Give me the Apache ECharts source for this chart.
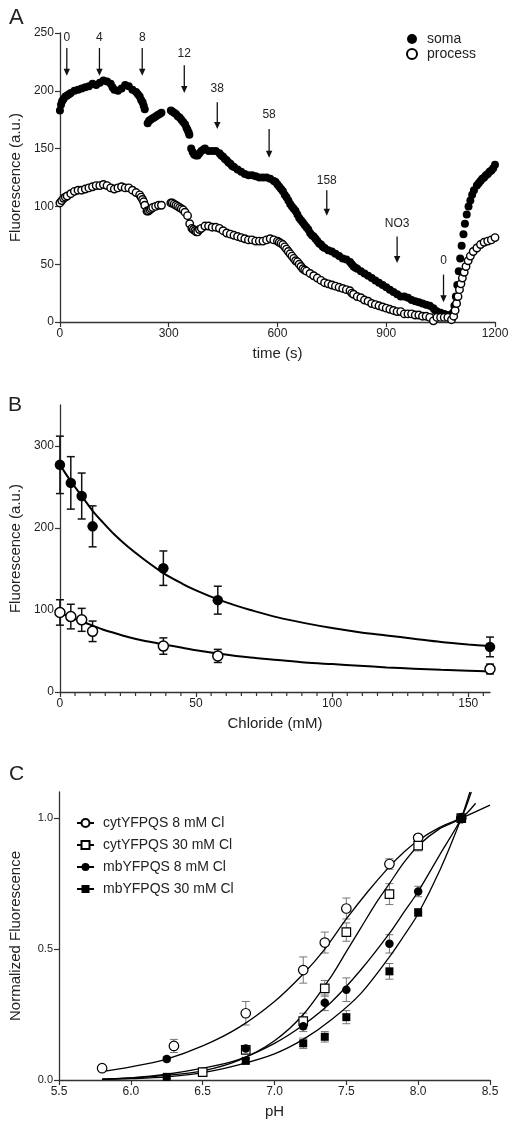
<!DOCTYPE html>
<html><head><meta charset="utf-8">
<script src="https://cdn.jsdelivr.net/npm/echarts@6/dist/echarts.min.js"></script>
<style>html,body{margin:0;padding:0;background:#fff}#c{width:514px;height:1127px}</style>
</head><body><div id="c"></div>
<script>
// ---------- Panel A data: time (s), fluorescence (a.u.) ----------
const somaA = [[0,183],[3,188],[6,191],[10,193],[15,195],[20,196],[25,197],[30,198],[40,200],[50,201],[60,202],[70,203],[80,204],[90,206],[100,205],[110,207],[120,209],[130,208],[140,206],[145,203],[150,201],[160,200],[170,202],[180,205],[190,204],[200,201],[210,199],[215,197],[220,195],[224,192],[228,190],[231,187],[234,184],[242,172],[246,174],[250,175],[255,176],[260,177],[265,178],[270,179],[275,180],[280,181],[306,183],[310,182],[315,181],[320,180],[325,178],[330,177],[335,175],[340,173],[345,171],[349,168],[352,166],[355,164],[357,162],[362,150],[366,147],[370,145],[375,144],[380,144],[385,146],[390,148],[395,149],[400,150],[410,148],[420,148],[430,148],[440,146],[445,144],[450,143],[455,141],[460,140],[465,138],[470,137],[475,135],[480,134],[490,132],[500,130],[510,128],[520,127],[530,127],[540,126],[550,125],[560,125],[570,125],[580,124],[590,122],[595,121],[600,119],[605,117],[610,115],[615,113],[620,110],[625,108],[630,105],[635,102],[640,100],[645,98],[650,96],[655,93],[660,90],[665,88],[670,86],[675,84],[680,82],[685,80],[690,77],[695,75],[700,74],[705,72],[710,70],[715,68],[720,67],[725,65],[730,64],[740,62],[750,61],[760,59],[770,57],[780,55],[790,54],[800,52],[805,50],[810,48],[815,47],[820,46],[830,44],[840,42],[850,40],[860,38],[870,36],[880,34],[890,32],[900,30],[910,28],[920,26],[930,24],[940,22],[950,22],[960,21],[970,19],[980,18],[990,17],[1000,16],[1010,15],[1020,14],[1030,12],[1035,10],[1040,9],[1050,8],[1060,7],[1070,6],[1078,5],[1084,8],[1088,14],[1092,22],[1096,32],[1100,44],[1104,55],[1108,66],[1113,76],[1117,85],[1122,93],[1127,100],[1132,105],[1137,110],[1142,114],[1150,118],[1155,120],[1160,122],[1165,124],[1170,125],[1175,127],[1180,128],[1185,130],[1190,131],[1195,133],[1200,136]];
const processA = [[0,103],[5,105],[10,107],[15,108],[20,109],[30,111],[40,113],[50,114],[60,114],[70,115],[80,116],[90,117],[100,118],[110,118],[120,119],[130,118],[140,116],[150,115],[160,116],[170,117],[180,116],[190,116],[200,114],[210,112],[220,110],[224,108],[228,106],[231,104],[234,101],[240,96],[244,96],[248,97],[252,98],[256,99],[264,100],[272,101],[280,101],[306,103],[310,103],[315,102],[320,101],[325,100],[330,99],[335,98],[340,97],[345,95],[352,92],[358,85],[364,81],[368,80],[372,79],[376,78],[380,78],[385,80],[390,81],[400,83],[410,83],[420,82],[430,82],[440,81],[450,79],[460,77],[470,76],[480,75],[490,74],[500,73],[510,72],[520,71],[530,71],[540,70],[550,70],[560,70],[570,71],[580,72],[590,71],[600,70],[605,69],[610,68],[615,67],[620,65],[625,63],[630,61],[635,59],[640,57],[645,55],[650,53],[655,52],[660,50],[665,48],[670,46],[675,45],[680,44],[690,42],[700,40],[710,38],[720,36],[730,34],[740,33],[750,32],[760,31],[770,30],[780,29],[790,28],[800,27],[805,25],[810,24],[820,22],[830,21],[840,19],[850,18],[860,16],[870,15],[880,14],[890,13],[900,12],[910,11],[920,10],[930,9],[940,9],[950,7],[960,7],[970,7],[980,6],[990,6],[1000,5],[1010,5],[1020,4],[1030,1],[1040,4],[1050,4],[1060,4],[1070,4],[1080,2],[1086,5],[1090,10],[1094,16],[1098,22],[1102,28],[1106,33],[1110,38],[1115,43],[1120,48],[1126,53],[1132,57],[1140,61],[1150,64],[1160,67],[1170,69],[1180,70],[1190,71],[1200,73]];
// arrow annotations: label, time, label value, arrow top value, arrow tip value
const arrowLabels = ['0','4','8','12','38','58','158','NO3','0'];
const arrowTimes  = [19,109,227,343,434,577,736,930,1058];
const arrowTextV  = [246,246,246,232,202,179,122,85,53];
const arrowTopV   = [237,237,237,222,190,167,114,74,41];
const arrowTipV   = [213,213,213,198,167,142,92,51,17];

// ---------- Panel B data: chloride (mM) ----------
const chloride = [0,4,8,12,38,58,158];
const somaB = [277,255,239,202,151,112,55];
const somaBErr = [35,32,28,25,21,17,12];
const processB = [97,92,88,74,56,44,28];
const processBErr = [15.5,15,14,12.5,10,8,6];
const somaFit = [[0,277],[4,257],[8,239],[12,221],[16,206],[20,192],[25,177],[30,164],[38,145],[45,132],[50,124],[58,113],[65,105],[70,100],[80,91],[90,84],[100,78],[110,73],[120,69],[130,65],[140,61],[150,58],[158,56]];
const processFit = [[0,97],[4,91],[8,86],[12,81],[16,76],[20,72],[25,67],[30,63],[38,58],[45,54],[50,51],[58,47],[70,42],[80,39],[90,36],[100,34],[110,32],[120,30],[130,28.5],[140,27],[150,26],[158,25]];
const chlorideMinorTicks = [5.556,11.111,16.667,22.222,27.778,33.333,38.889,44.444,55.556,61.111,66.667,72.222,77.778,83.333,88.889,94.444,105.556,111.111,116.667,122.222,127.778,133.333,138.889,144.444,155.556];

// ---------- Panel C data: pH ----------
const cyt8pH = [5.8,6.3,6.8,7.2,7.35,7.5,7.8,8.0,8.3];
const cyt8V = [0.045,0.13,0.255,0.42,0.525,0.655,0.825,0.925,1.0];
const cyt8E = [0,0.025,0.045,0.05,0.04,0.04,0.02,0.012,0];
const cyt30pH = [6.5,6.8,7.2,7.35,7.5,7.8,8.0,8.3];
const cyt30V = [0.03,0.115,0.225,0.35,0.565,0.71,0.895,1.0];
const cyt30E = [0.01,0.012,0.03,0.03,0.035,0.04,0.02,0];
const mb8pH = [6.25,6.8,7.2,7.35,7.5,7.8,8.0,8.3];
const mb8V = [0.08,0.12,0.205,0.295,0.345,0.52,0.72,1.0];
const mb8E = [0.01,0.012,0.02,0.03,0.045,0.035,0.02,0];
const mb30pH = [6.25,6.8,7.2,7.35,7.5,7.8,8.0,8.3];
const mb30V = [0.012,0.073,0.14,0.165,0.24,0.415,0.64,1.0];
const mb30E = [0.005,0.01,0.02,0.02,0.025,0.03,0.015,0];
const cyt8Fit = [[5.8,0.032],[6.0,0.05],[6.25,0.08],[6.5,0.13],[6.75,0.2],[7.0,0.3],[7.2,0.405],[7.35,0.5],[7.5,0.615],[7.65,0.72],[7.8,0.815],[7.9,0.87],[8.0,0.915],[8.15,0.965],[8.3,1.0],[8.5,1.05]];
const cyt30Fit = [[5.8,0.003],[6.0,0.008],[6.25,0.018],[6.5,0.035],[6.75,0.075],[7.0,0.15],[7.2,0.25],[7.4,0.4],[7.5,0.49],[7.6,0.58],[7.7,0.67],[7.8,0.75],[7.9,0.83],[8.0,0.895],[8.15,0.96],[8.3,1.0],[8.4,1.057]];
const mb8Fit = [[5.8,0.003],[6.0,0.008],[6.25,0.022],[6.5,0.045],[6.75,0.078],[7.0,0.14],[7.2,0.21],[7.4,0.3],[7.6,0.42],[7.8,0.56],[7.9,0.64],[8.0,0.72],[8.15,0.86],[8.3,1.0],[8.37,1.1]];
const mb30Fit = [[5.8,0.002],[6.0,0.005],[6.25,0.012],[6.5,0.028],[6.75,0.058],[7.0,0.1],[7.2,0.155],[7.4,0.232],[7.6,0.33],[7.8,0.47],[7.9,0.55],[8.0,0.635],[8.15,0.8],[8.3,1.0],[8.36,1.1]];
const namesC = ['cytYFPQS 8 mM Cl','cytYFPQS 30 mM Cl','mbYFPQS 8 mM Cl','mbYFPQS 30 mM Cl'];

// ---------- helpers ----------
const FONT = 'Liberation Sans, Arial, sans-serif';
const TXT = '#222';
const AX = '#333';
const zip = (xs, ys) => xs.map((x, i) => [x, ys[i]]);
const errData = (xs, ys, es) => xs.map((x, i) => [x, ys[i] - es[i], ys[i] + es[i]]).filter(d => d[2] > d[1]);

function errSeries(gi, data, color, cap, w, z) {
  return {
    type: 'custom', xAxisIndex: gi, yAxisIndex: gi, z: z || 2, silent: true, clip: false,
    data: data,
    renderItem: (params, api) => {
      const lo = api.coord([api.value(0), api.value(1)]);
      const hi = api.coord([api.value(0), api.value(2)]);
      const st = { stroke: color, lineWidth: w };
      return { type: 'group', children: [
        { type: 'line', shape: { x1: lo[0], y1: lo[1], x2: hi[0], y2: hi[1] }, style: st },
        { type: 'line', shape: { x1: lo[0]-cap, y1: lo[1], x2: lo[0]+cap, y2: lo[1] }, style: st },
        { type: 'line', shape: { x1: hi[0]-cap, y1: hi[1], x2: hi[0]+cap, y2: hi[1] }, style: st }
      ]};
    }
  };
}

function axisBase(extra) {
  return Object.assign({
    axisLine: { show: true, lineStyle: { color: AX, width: 1.3 } },
    axisTick: { show: true, length: 5, lineStyle: { color: AX, width: 1.2 } },
    axisLabel: { color: TXT, fontSize: 12, fontFamily: FONT, margin: 6, formatter: v => String(v) },
    splitLine: { show: false },
    nameTextStyle: { color: TXT, fontSize: 15, fontFamily: FONT },
    nameLocation: 'middle'
  }, extra);
}

const chart = echarts.init(document.getElementById('c'), null, { renderer: 'canvas' });

const arrowData = arrowTimes.map((t, i) => [t, arrowTextV[i], arrowTopV[i], arrowTipV[i], i]);

const option = {
  backgroundColor: '#fff',
  animation: false,
  title: [
    { text: 'A', left: 4, top: 2, textStyle: { fontSize: 22, fontWeight: 'normal', color: TXT, fontFamily: FONT } },
    { text: 'B', left: 3, top: 390, textStyle: { fontSize: 21, fontWeight: 'normal', color: TXT, fontFamily: FONT } },
    { text: 'C', left: 4, top: 759, textStyle: { fontSize: 21, fontWeight: 'normal', color: TXT, fontFamily: FONT } }
  ],
  legend: [
    { data: ['soma', 'process'], left: 401, top: 27, orient: 'vertical', itemGap: 1, itemWidth: 10, itemHeight: 10,
      textStyle: { fontSize: 14, color: TXT, fontFamily: FONT, padding: [0, 0, 0, 5] } },
    { data: namesC, left: 71, top: 811, orient: 'vertical', itemGap: 8, itemWidth: 17, itemHeight: 10,
      textStyle: { fontSize: 14, color: TXT, fontFamily: FONT, padding: [0, 0, 0, 4] } }
  ],
  grid: [
    { left: 58, top: 33, width: 437, height: 289 },
    { left: 59, top: 405, width: 431, height: 287 },
    { left: 59, top: 792, width: 431, height: 288 }
  ],
  xAxis: [
    axisBase({ gridIndex: 0, type: 'value', min: 0, max: 1200, interval: 300, name: 'time (s)', nameGap: 24 }),
    axisBase({ gridIndex: 1, type: 'value', min: 0, max: 158, name: 'Chloride (mM)', nameGap: 24,
      axisTick: { show: true, length: 5, lineStyle: { color: AX, width: 1.2 }, customValues: [0, 50, 100, 150] },
      axisLabel: { color: TXT, fontSize: 12, fontFamily: FONT, margin: 6, customValues: [0, 50, 100, 150] } }),
    axisBase({ gridIndex: 2, type: 'value', min: 5.5, max: 8.5, interval: 0.5, name: 'pH', nameGap: 24,
      axisLabel: { color: TXT, fontSize: 12, fontFamily: FONT, margin: 6, formatter: v => v.toFixed(1) } })
  ],
  yAxis: [
    axisBase({ gridIndex: 0, type: 'value', min: 0, max: 250, interval: 50, name: 'Fluorescence (a.u.)', nameGap: 36 }),
    axisBase({ gridIndex: 1, type: 'value', min: 0, max: 350, name: 'Fluorescence (a.u.)', nameGap: 36,
      axisTick: { show: true, length: 5, lineStyle: { color: AX, width: 1.2 }, customValues: [0, 100, 200, 300] },
      axisLabel: { color: TXT, fontSize: 12, fontFamily: FONT, margin: 6, customValues: [0, 100, 200, 300] } }),
    axisBase({ gridIndex: 2, type: 'value', min: 0, max: 1.1, name: 'Normalized Fluorescence', nameGap: 36,
      axisTick: { show: true, length: 5, lineStyle: { color: AX, width: 1.2 }, customValues: [0, 0.5, 1.0] },
      axisLabel: { color: TXT, fontSize: 11, fontFamily: FONT, margin: 6, customValues: [0, 0.5, 1.0], formatter: v => v.toFixed(1) } })
  ],
  series: [
    // Panel A
    { name: 'soma', type: 'scatter', xAxisIndex: 0, yAxisIndex: 0, data: somaA, symbol: 'circle', symbolSize: 8,
      itemStyle: { color: '#000', opacity: 1 }, z: 3 },
    { name: 'process', type: 'scatter', xAxisIndex: 0, yAxisIndex: 0, data: processA, symbol: 'circle', symbolSize: 7.5,
      itemStyle: { color: '#fff', borderColor: '#000', borderWidth: 1.4, opacity: 1 }, z: 4 },
    { type: 'custom', xAxisIndex: 0, yAxisIndex: 0, data: arrowData, z: 5, silent: true, clip: false,
      renderItem: (params, api) => {
        const t = api.value(0);
        const pText = api.coord([t, api.value(1)]);
        const pTop = api.coord([t, api.value(2)]);
        const pTip = api.coord([t, api.value(3)]);
        const lbl = arrowLabels[api.value(4)];
        return { type: 'group', children: [
          { type: 'line', shape: { x1: pTop[0], y1: pTop[1], x2: pTip[0], y2: pTip[1] - 5 }, style: { stroke: '#111', lineWidth: 1.3 } },
          { type: 'polygon', shape: { points: [[pTip[0] - 3.2, pTip[1] - 7], [pTip[0] + 3.2, pTip[1] - 7], [pTip[0], pTip[1]]] }, style: { fill: '#111' } },
          { type: 'text', x: pText[0], y: pText[1], style: { text: lbl, fill: TXT, fontSize: 12, fontFamily: FONT, align: 'center', verticalAlign: 'middle' } }
        ]};
      }
    },
    // Panel B minor ticks on the chloride axis
    { type: 'custom', xAxisIndex: 1, yAxisIndex: 1, data: chlorideMinorTicks.map(v => [v, 0]), z: 6, silent: true, clip: false,
      renderItem: (params, api) => {
        const p = api.coord([api.value(0), api.value(1)]);
        return { type: 'group', children: [
          { type: 'line', shape: { x1: p[0], y1: p[1] + 0.5, x2: p[0], y2: p[1] + 4 }, style: { stroke: '#333', lineWidth: 1.2 } }
        ]};
      }
    },
    // Panel B
    errSeries(1, errData(chloride, somaB, somaBErr), '#111', 4, 1.5, 2),
    errSeries(1, errData(chloride, processB, processBErr), '#111', 4, 1.5, 2),
    { type: 'line', xAxisIndex: 1, yAxisIndex: 1, data: somaFit, smooth: 0.3, showSymbol: false, silent: true,
      lineStyle: { color: '#000', width: 2 }, z: 3 },
    { type: 'line', xAxisIndex: 1, yAxisIndex: 1, data: processFit, smooth: 0.3, showSymbol: false, silent: true,
      lineStyle: { color: '#000', width: 2 }, z: 3 },
    { type: 'scatter', xAxisIndex: 1, yAxisIndex: 1, data: zip(chloride, somaB), symbol: 'circle', symbolSize: 10.5,
      itemStyle: { color: '#000', opacity: 1 }, z: 4 },
    { type: 'scatter', xAxisIndex: 1, yAxisIndex: 1, data: zip(chloride, processB), symbol: 'circle', symbolSize: 10,
      itemStyle: { color: '#fff', borderColor: '#000', borderWidth: 1.5, opacity: 1 }, z: 4 },
    // Panel C fits (legend icons come from these)
    { name: namesC[0], type: 'line', xAxisIndex: 2, yAxisIndex: 2, data: cyt8Fit, smooth: 0.3, showSymbol: false, symbol: 'emptyCircle', symbolSize: 9,
      lineStyle: { color: '#000', width: 1.3 }, itemStyle: { color: '#000', borderWidth: 1.2 }, z: 3 },
    { name: namesC[1], type: 'line', xAxisIndex: 2, yAxisIndex: 2, data: cyt30Fit, smooth: 0.3, showSymbol: false, symbol: 'emptyRect', symbolSize: 9,
      lineStyle: { color: '#000', width: 1.3 }, itemStyle: { color: '#000', borderWidth: 1.2 }, z: 3 },
    { name: namesC[2], type: 'line', xAxisIndex: 2, yAxisIndex: 2, data: mb8Fit, smooth: 0.3, showSymbol: false, symbol: 'circle', symbolSize: 9,
      lineStyle: { color: '#000', width: 1.3 }, itemStyle: { color: '#000' }, z: 3 },
    { name: namesC[3], type: 'line', xAxisIndex: 2, yAxisIndex: 2, data: mb30Fit, smooth: 0.3, showSymbol: false, symbol: 'rect', symbolSize: 9,
      lineStyle: { color: '#000', width: 1.3 }, itemStyle: { color: '#000' }, z: 3 },
    errSeries(2, errData(cyt8pH, cyt8V, cyt8E), '#777', 4, 1, 2),
    errSeries(2, errData(cyt30pH, cyt30V, cyt30E), '#777', 4, 1, 2),
    errSeries(2, errData(mb8pH, mb8V, mb8E), '#777', 4, 1, 2),
    errSeries(2, errData(mb30pH, mb30V, mb30E), '#777', 4, 1, 2),
    { name: namesC[0], type: 'scatter', xAxisIndex: 2, yAxisIndex: 2, data: zip(cyt8pH, cyt8V), symbol: 'circle', symbolSize: 9.5,
      itemStyle: { color: '#fff', borderColor: '#000', borderWidth: 1.2, opacity: 1 }, z: 4 },
    { name: namesC[1], type: 'scatter', xAxisIndex: 2, yAxisIndex: 2, data: zip(cyt30pH, cyt30V), symbol: 'rect', symbolSize: 8.5,
      itemStyle: { color: '#fff', borderColor: '#000', borderWidth: 1.2, opacity: 1 }, z: 4 },
    { name: namesC[2], type: 'scatter', xAxisIndex: 2, yAxisIndex: 2, data: zip(mb8pH, mb8V), symbol: 'circle', symbolSize: 8.5,
      itemStyle: { color: '#000', opacity: 1 }, z: 5 },
    { name: namesC[3], type: 'scatter', xAxisIndex: 2, yAxisIndex: 2, data: zip(mb30pH, mb30V), symbol: 'rect', symbolSize: 8,
      itemStyle: { color: '#000', opacity: 1 }, z: 5 }
  ]
};
chart.setOption(option);
</script></body></html>
